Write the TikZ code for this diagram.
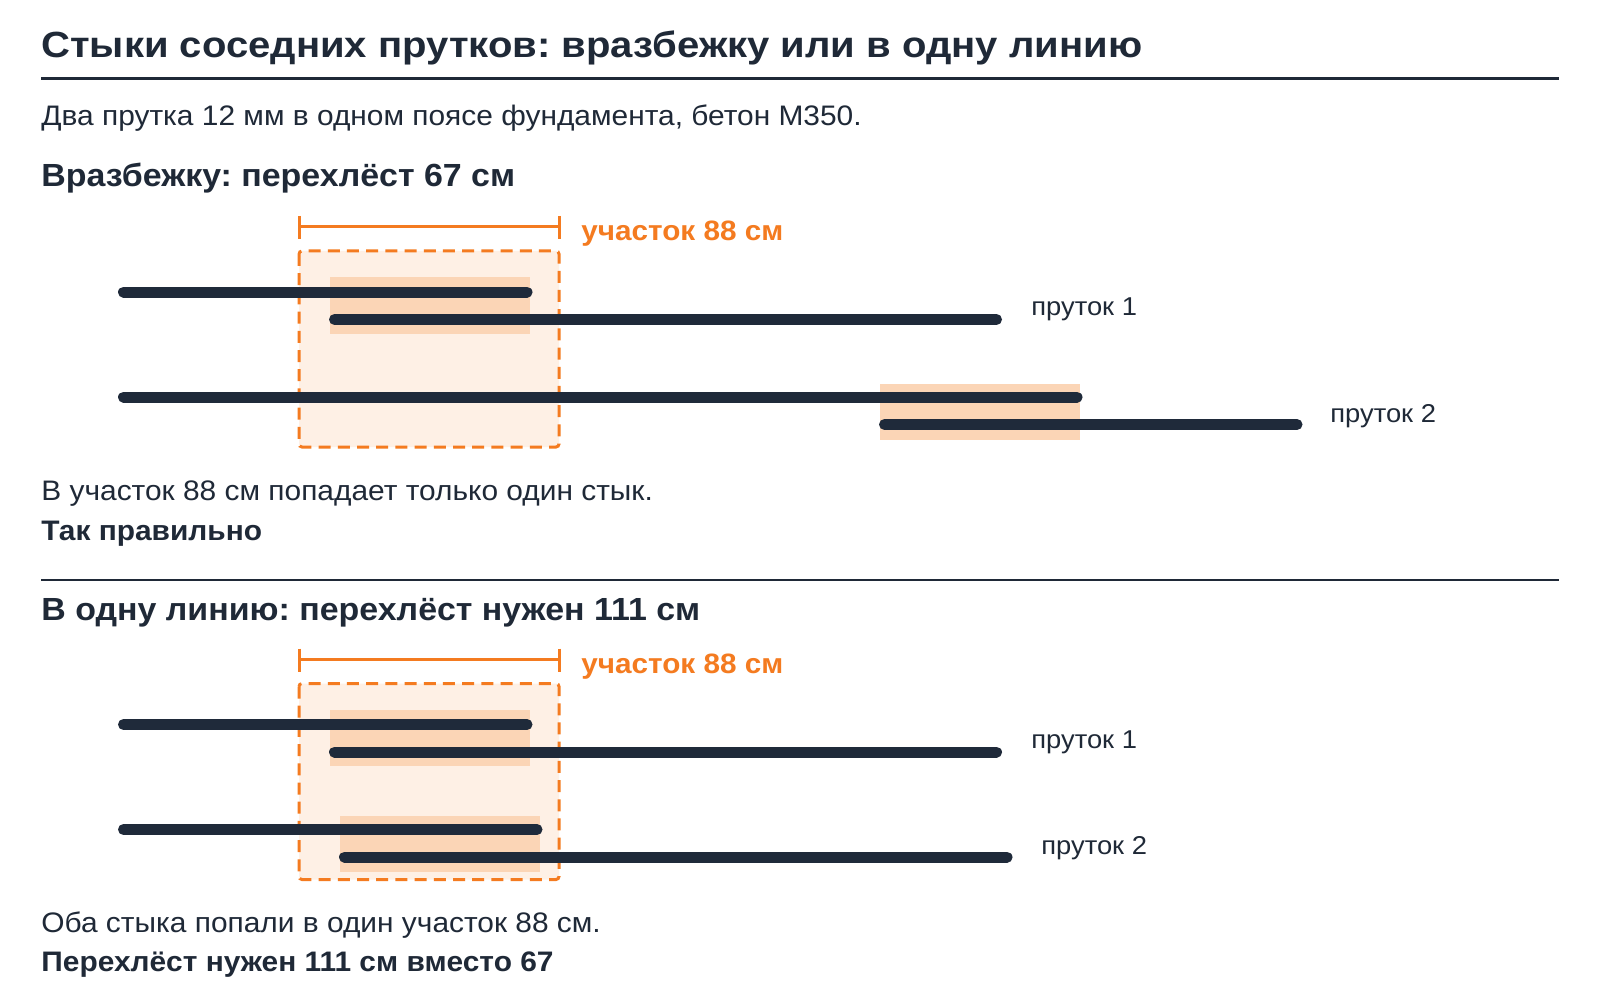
\documentclass[tikz,border=0pt]{standalone}
\usepackage{fontspec}
\setmainfont{Liberation Sans}[FakeStretch=1.06]
\newfontfamily\titlefont{Liberation Sans}[FakeStretch=1.1]
\definecolor{ink}{HTML}{1F2937}
\definecolor{barc}{HTML}{1F2A3A}
\definecolor{accent}{HTML}{F47B20}
\definecolor{zonefill}{HTML}{FEF0E5}
\definecolor{lapc}{HTML}{FBD5B6}

\begin{document}
\frenchspacing
\begin{tikzpicture}[x=0.5pt,y=-0.5pt,
    bar/.style={draw=barc, line width=5.5pt, line cap=round},
    lap/.style={fill=lapc},
    zone/.style={fill=zonefill, draw=accent, line width=1.5pt, dash pattern=on 6pt off 3.6pt, rounded corners=1.5pt},
    span/.style={draw=accent, line width=1.5pt},
    body/.style={anchor=base west, inner sep=0pt, text=ink, font=\fontsize{14.1}{17}\selectfont},
    strong/.style={body, font=\bfseries\fontsize{14.1}{17}\selectfont},
    head/.style={body, font=\bfseries\fontsize{16}{19}\selectfont},
    title/.style={body, font=\titlefont\bfseries\fontsize{18.2}{21}\selectfont},
    rodname/.style={body, font=\fontsize{12.9}{15}\selectfont},
    zonename/.style={body, text=accent, font=\bfseries\fontsize{14}{17}\selectfont}]
    \useasboundingbox[fill=white] (0,0) rectangle (1600,1000);

    \node[title] (title) at (41,58) {Стыки соседних прутков: вразбежку или в одну линию};
    \draw[ink, line width=1.5pt] (41,79) -- (1559,79);
    \node[body] (intro) at (41,125.5) {Два прутка 12 мм в одном поясе фундамента, бетон М350.};

    % zone, bracket and the first pair of rods, same in both panels
    \foreach \dy/\n in {0/a,432.5/b}{
        \draw[zone] (299,251+\dy) rectangle (559,447+\dy);
        \draw[span] (299,216+\dy) -- (299,239+\dy);
        \draw[span] (559,216+\dy) -- (559,239+\dy);
        \draw[span] (299,227+\dy) -- (559,227+\dy);
        \node[zonename] (zone\n) at (581,240.5+\dy) {участок 88 см};
        \fill[lap] (330,277.5+\dy) rectangle (530,333.5+\dy);
        \draw[bar] (123.5,292+\dy) -- (527,292+\dy);
        \draw[bar] (334.5,319.5+\dy) -- (996.5,319.5+\dy);
        \node[rodname] (rodone\n) at (1031,315.5+\dy) {пруток 1};
    }

    % staggered
    \node[head] (headA) at (41,187) {Вразбежку: перехлёст 67 см};
    \fill[lap] (880,384) rectangle (1080,440);
    \draw[bar] (123.5,397) -- (1077,397);
    \draw[bar] (884.5,424.5) -- (1297,424.5);
    \node[rodname] (rodtwoa) at (1330,422) {пруток 2};
    \node[body] (noteA) at (41,500) {В участок 88 см попадает только один стык.};
    \node[strong] (verdictA) at (41,540) {Так правильно};

    \draw[ink, line width=1pt] (41,580) -- (1559,580);

    % in one line
    \node[head] (headB) at (41,620) {В одну линию: перехлёст нужен 111 см};
    \fill[lap] (340,816) rectangle (540,872);
    \draw[bar] (123.5,829.5) -- (537,829.5);
    \draw[bar] (344.5,857) -- (1007,857);
    \node[rodname] (rodtwob) at (1041,854.5) {пруток 2};
    \node[body] (noteB) at (41,932) {Оба стыка попали в один участок 88 см.};
    \node[strong] (verdictB) at (41,971.5) {Перехлёст нужен 111 см вместо 67};
\end{tikzpicture}
\end{document}
